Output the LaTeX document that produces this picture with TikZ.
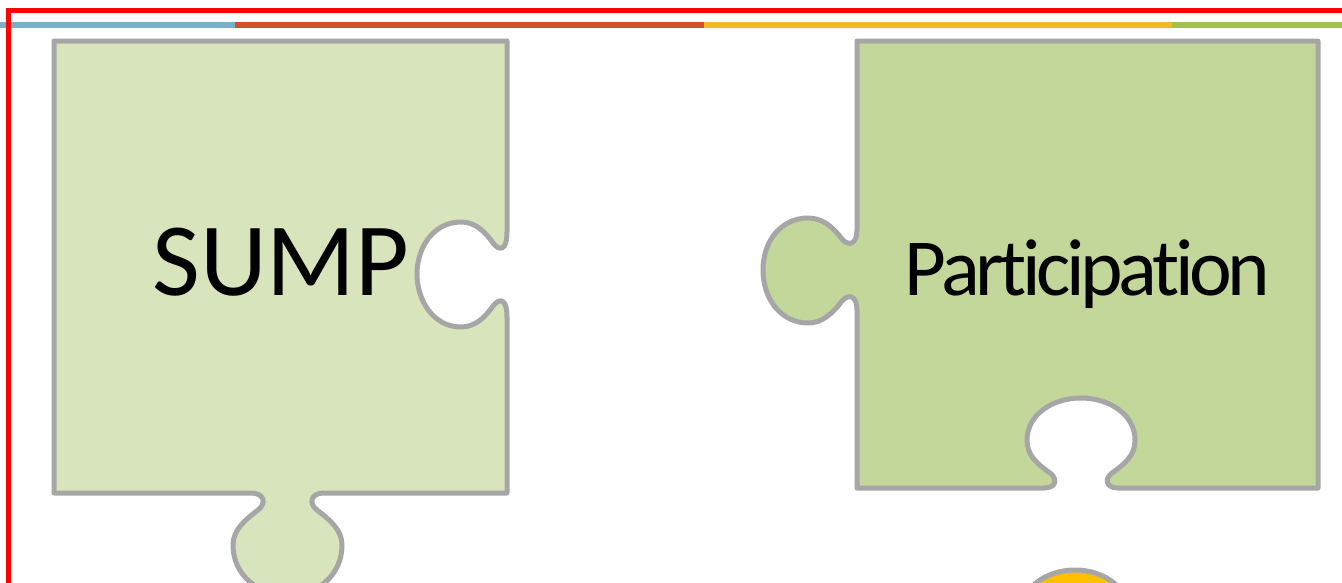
\documentclass[tikz,border=0pt]{standalone}
\usepackage{fontspec}
\setmainfont{Carlito}
\definecolor{frameRed}{HTML}{FF0000}
\definecolor{barBlue}{HTML}{78AFCD}
\definecolor{barRed}{HTML}{D5502A}
\definecolor{barYellow}{HTML}{F3B81F}
\definecolor{barGreen}{HTML}{A3C14A}
\definecolor{pieceLine}{HTML}{A6A6A6}
\definecolor{lightGreen}{HTML}{D8E4BC}
\definecolor{midGreen}{HTML}{C4D79B}
\definecolor{pieceYellow}{HTML}{FFC000}
\tikzset{
  piece/.style={draw=pieceLine, line width=5pt, line join=round},
  lbl/.style={anchor=base, inner sep=0pt, text=black},
}
\newcommand{\pk}{\kern-4.5pt}
\begin{document}
\begin{tikzpicture}[x=1pt,y=-1pt]
\useasboundingbox (0,0) rectangle (1342,582);
\clip (0,0) rectangle (1342,582);
\fill[white] (0,0) rectangle (1342,582);
% top colour bar
\fill[barBlue] (0,21.5) rectangle (235,27.5);
\fill[barRed] (235,21.5) rectangle (704,27.5);
\fill[barYellow] (704,21.5) rectangle (1172,27.5);
\fill[barGreen] (1172,21.5) rectangle (1342,27.5);
% red frame
\draw[frameRed, line width=5pt] (8.5,600) -- (8.5,10) -- (1360,10);
% left piece (SUMP)
\draw[piece, fill=lightGreen]
  (54,41) -- (507,41) -- (507,232)
  .. controls (507,250) and (500,252) .. (493,243)
  .. controls (484,230) and (474,222) .. (461,222)
  .. controls (433,222) and (417,248) .. (417,274)
  .. controls (417,300) and (433,327) .. (461,327)
  .. controls (474,327) and (484,319) .. (493,306)
  .. controls (500,297) and (507,299) .. (507,317)
  -- (507,493) -- (324,493)
  .. controls (311,493) and (308,503) .. (317,510)
  .. controls (330,520) and (342,530) .. (342,545)
  .. controls (342,575) and (318,595) .. (288,595)
  .. controls (258,595) and (233,575) .. (233,545)
  .. controls (233,530) and (245,520) .. (258,510)
  .. controls (267,503) and (264,493) .. (251,493)
  -- (54,493) -- cycle;
% right piece (Participation)
\draw[piece, fill=midGreen]
  (857,41) -- (1318,41) -- (1318,488) -- (1118,488)
  .. controls (1106,488) and (1104,479) .. (1112,473)
  .. controls (1126,463) and (1135,455) .. (1135,440)
  .. controls (1135,415) and (1110,398) .. (1081,398)
  .. controls (1052,398) and (1027,415) .. (1027,440)
  .. controls (1027,455) and (1036,463) .. (1050,473)
  .. controls (1058,479) and (1056,488) .. (1044,488)
  -- (857,488) -- (857,310)
  .. controls (857,296) and (849,293) .. (842,301)
  .. controls (832,314) and (822,323) .. (808,323)
  .. controls (782,323) and (763,300) .. (763,270)
  .. controls (763,240) and (782,218) .. (808,218)
  .. controls (822,218) and (832,226) .. (842,239)
  .. controls (849,247) and (857,244) .. (857,230)
  -- cycle;
% yellow piece peeking in at the bottom
\draw[piece, fill=pieceYellow] (1075,612) ellipse [x radius=54, y radius=42];
% labels
\node[lbl, font=\fontsize{104}{110}\selectfont] (sump) at (281,295) {SUMP};
\node[lbl, font=\fontsize{81}{90}\selectfont] (part) at (1087,295)
  {P\pk a\pk r\pk t\pk i\pk c\pk i\pk p\pk a\pk t\pk i\pk o\pk n};
\end{tikzpicture}
\end{document}
